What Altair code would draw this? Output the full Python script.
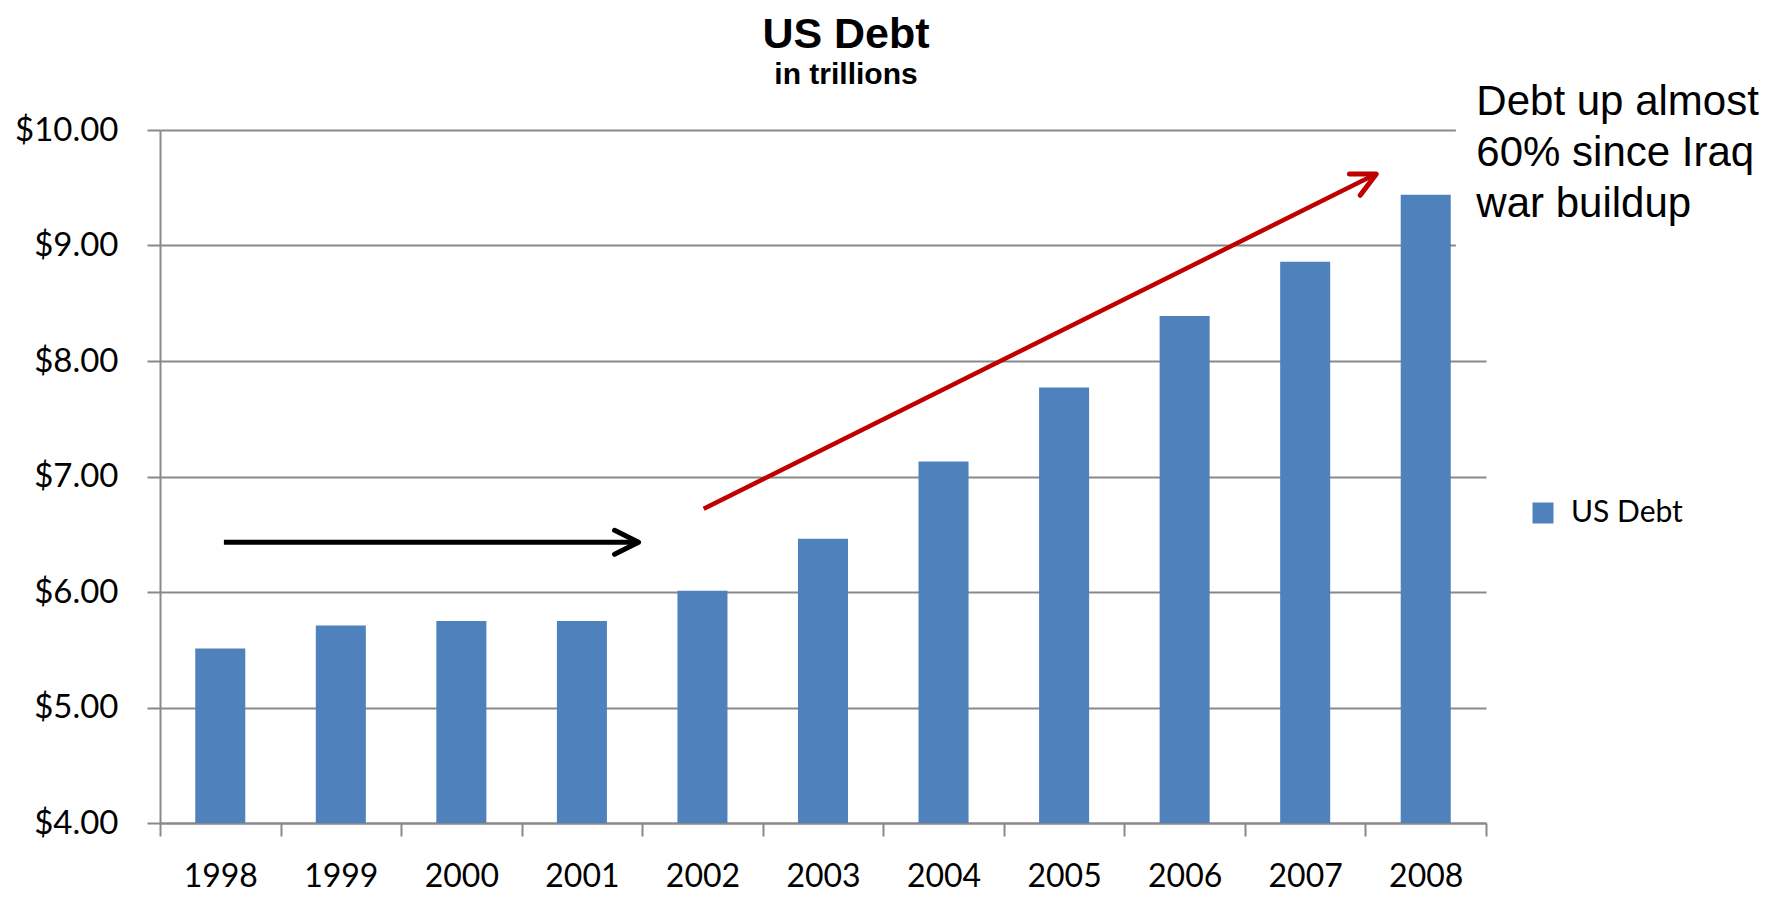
import altair as alt
import pandas as pd

# ---- data ----
years = ["1998", "1999", "2000", "2001", "2002", "2003", "2004", "2005", "2006", "2007", "2008"]
debt = [5.51, 5.71, 5.75, 5.75, 6.01, 6.46, 7.13, 7.77, 8.39, 8.86, 9.44]
series_name = "US Debt"
y_ticks = [4, 5, 6, 7, 8, 9, 10]
y_domain = [4, 10]

# annotation arrows (data coordinates: fractional year position, debt value)
arrow_id = ["black", "black", "red", "red"]
arrow_x = [1998.03, 2001.45, 2002.01, 2007.57]
arrow_y = [6.43, 6.43, 6.72, 9.61]
head_x = [2001.47, 2007.59]
head_y = [6.43, 9.62]
head_angle = [0, 333.4]
head_color = ["#000000", "#C00000"]

note_lines = ["Debt up almost", "60% since Iraq", "war buildup"]
note_x = [2008.42]
note_y = [10.13]
# white box behind the note (hides the gridlines like the original text box)
box_x = [2008.25]
box_x2 = [2009.6]
box_y = [10.4]
box_y2 = [8.5]

GRAY = "#898989"
BLUE = "#4F81BD"
XQ = alt.Scale(domain=[1997.5, 2008.5], nice=False, zero=False)
YQ = alt.Scale(domain=y_domain, nice=False, zero=False)

df = pd.DataFrame({"year": years, "debt": debt, "series": [series_name] * len(years)})

bars = alt.Chart(df).mark_bar(width=alt.RelativeBandSize(0.415)).encode(
    x=alt.X("year:N", title=None, sort=years,
            scale=alt.Scale(paddingInner=0, paddingOuter=0),
            axis=alt.Axis(labelAngle=0, tickBand="extent", tickSize=13, tickColor=GRAY,
                          tickWidth=2, domainColor=GRAY, domainWidth=2, labelFont="Lato",
                          labelFontSize=32, labelColor="black", labelPadding=25, grid=False)),
    y=alt.Y("debt:Q", title=None, scale=YQ,
            axis=alt.Axis(values=y_ticks, format="$.2f", tickSize=13, tickColor=GRAY,
                          tickWidth=2, domainColor=GRAY, domainWidth=2, gridColor=GRAY,
                          gridWidth=2, grid=True, labelFont="Lato", labelFontSize=33,
                          labelColor="black", labelPadding=29)),
    y2=alt.datum(4),
    color=alt.Color("series:N", scale=alt.Scale(range=[BLUE]),
                    legend=alt.Legend(title=None, orient="none", legendX=1368, legendY=368,
                                      symbolType="square", symbolSize=441, symbolStrokeWidth=0,
                                      labelFont="Lato", labelFontSize=30, labelColor="black",
                                      labelOffset=13, padding=0)),
)

box = alt.Chart(pd.DataFrame({"x": box_x, "x2": box_x2, "y": box_y, "y2": box_y2})).mark_rect(
    color="white").encode(
    x=alt.X("x:Q", scale=XQ, axis=None), x2="x2:Q",
    y=alt.Y("y:Q", scale=YQ), y2="y2:Q",
)

arrows_df = pd.DataFrame({"id": arrow_id, "x": arrow_x, "y": arrow_y})
black_line = alt.Chart(arrows_df[arrows_df.id == "black"]).mark_line(
    color="#000000", strokeWidth=5).encode(
    x=alt.X("x:Q", scale=XQ, axis=None), y=alt.Y("y:Q", scale=YQ))
red_line = alt.Chart(arrows_df[arrows_df.id == "red"]).mark_line(
    color="#C00000", strokeWidth=4.5).encode(
    x=alt.X("x:Q", scale=XQ, axis=None), y=alt.Y("y:Q", scale=YQ))

heads = alt.Chart(pd.DataFrame({"x": head_x, "y": head_y, "a": head_angle, "c": head_color})).mark_point(
    shape="M -1 -0.5 L 0 0 L -1 0.5", size=2304, filled=False, strokeWidth=5, opacity=1,
    strokeCap="round", strokeJoin="round").encode(
    x=alt.X("x:Q", scale=XQ, axis=None), y=alt.Y("y:Q", scale=YQ),
    angle=alt.Angle("a:Q", scale=None),
    stroke=alt.Stroke("c:N", scale=None),
)

note = alt.Chart(alt.Data(values=[{"t": note_lines, "x": note_x[0], "y": note_y[0]}])).mark_text(
    align="left", baseline="alphabetic", font="Liberation Sans", fontSize=42, lineHeight=51,
    color="black").encode(
    x=alt.X("x:Q", scale=XQ, axis=None), y=alt.Y("y:Q", scale=YQ), text="t:N")

overlay = alt.layer(box, black_line, red_line, heads, note)

chart = alt.layer(bars, overlay).resolve_scale(x="independent", color="independent").properties(
    width=1326, height=693,
    background="white",
    title=alt.Title("US Debt", subtitle="in trillions", font="Liberation Sans", fontSize=43,
                    fontWeight="bold", color="black", subtitleFont="Liberation Sans",
                    subtitleFontSize=30, subtitleFontWeight="bold", subtitleColor="black",
                    anchor="middle", dx=23, offset=-9, subtitlePadding=3),
    padding={"left": 152, "top": 122, "right": 280, "bottom": 72},
    autosize=alt.AutoSizeParams(type="none"),
).configure_view(stroke=None)

chart.save("out.html", embed_options={"renderer": "svg", "actions": False})
